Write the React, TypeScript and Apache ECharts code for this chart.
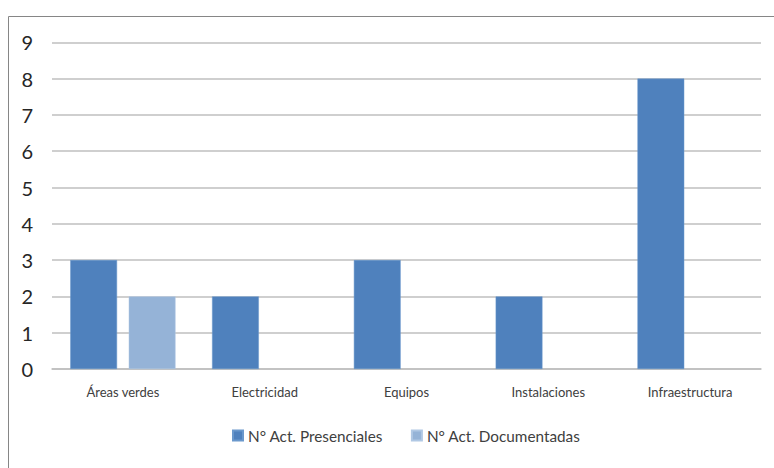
import React, { useEffect, useRef } from "react";
import * as echarts from "echarts";

const categories = ["Áreas verdes", "Electricidad", "Equipos", "Instalaciones", "Infraestructura"];
const presenciales = [3, 2, 3, 2, 8];
const documentadas = [2, null, null, null, null];
const seriesNames = ["N° Act. Presenciales", "N° Act. Documentadas"];

export default function App() {
  const ref = useRef<HTMLDivElement>(null);
  useEffect(() => {
    const chart = echarts.init(ref.current!, undefined, { renderer: "svg" });
    chart.setOption({
      animation: false,
      backgroundColor: "#ffffff",
      graphic: [
        {
          type: "rect",
          shape: { x: 8.5, y: 16.5, width: 800, height: 500 },
          style: { fill: "none", stroke: "#868686", lineWidth: 1 },
          z: 0,
        },
      ],
      grid: { left: 52, right: 13, top: 42.3, bottom: 468 - 369, containLabel: false },
      legend: {
        bottom: 20,
        left: 227,
        itemWidth: 10,
        itemHeight: 10,
        itemGap: 28,
        icon: "rect",
        textStyle: { fontFamily: "Lato", fontSize: 15.3, color: "#404040" },
        data: seriesNames,
      },
      xAxis: {
        type: "category",
        data: categories,
        axisLine: { lineStyle: { color: "#BFBFBF", width: 1.5 } },
        axisTick: { show: false },
        axisLabel: { fontFamily: "Lato", fontSize: 13, color: "#404040", margin: 16 },
      },
      yAxis: {
        type: "value",
        min: 0,
        max: 9,
        interval: 1,
        axisLine: { show: false },
        axisTick: { show: false },
        axisLabel: { fontFamily: "Lato", fontSize: 20, color: "#262626", margin: 19 },
        splitLine: { lineStyle: { color: "#BFBFBF", width: 1.5 } },
      },
      series: [
        {
          name: seriesNames[0],
          type: "bar",
          data: presenciales,
          barWidth: "33%",
          barGap: "25%",
          itemStyle: { color: "#4F81BD", borderColor: "#6A98CC", borderWidth: 0.5 },
        },
        {
          name: seriesNames[1],
          type: "bar",
          data: documentadas,
          barWidth: "33%",
          itemStyle: { color: "#95B3D7", borderColor: "#B0C8E4", borderWidth: 0.5 },
        },
      ],
    });
    return () => chart.dispose();
  }, []);
  return (
    <div
      ref={ref}
      style={{ position: "absolute", left: 0, top: 0, width: 774, height: 468 }}
    />
  );
}
